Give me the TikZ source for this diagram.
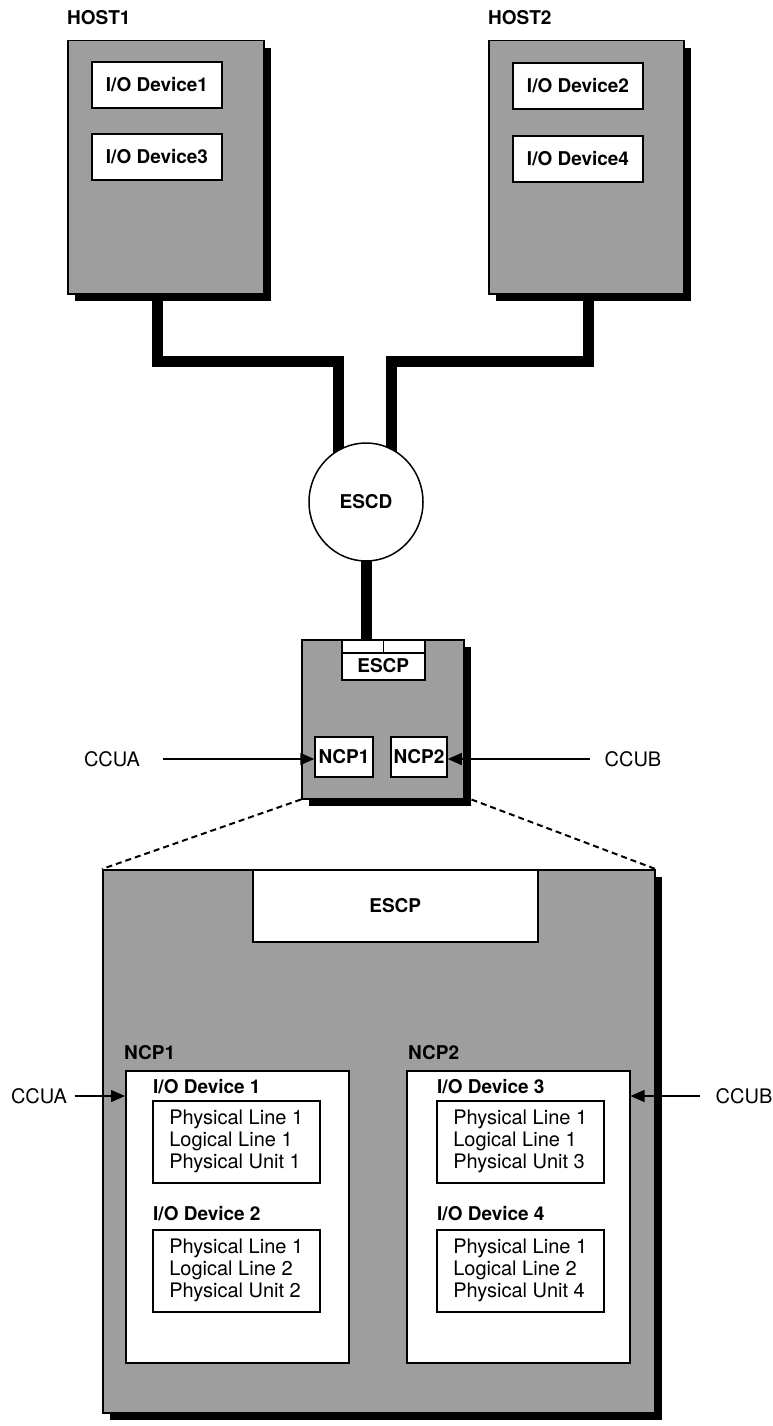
\documentclass[tikz,border=0pt]{standalone}
\usepackage{fontspec}
\setmainfont{TeX Gyre Heros}
\usetikzlibrary{arrows.meta,shadows,shapes.geometric}
\pgfdeclarelayer{bg}
\pgfsetlayers{bg,main}

\tikzset{
  box/.style={draw, line width=1.5pt, fill=black!38, inner sep=0pt,
    drop shadow={shadow xshift=7pt, shadow yshift=-7pt, fill=black, opacity=1}},
  wbox/.style={draw, line width=1.5pt, fill=white, inner sep=0pt},
  lbl/.style={font=\fontsize{19}{22}\selectfont\bfseries},
  txt/.style={font=\fontsize{20}{22}\selectfont},
  pipe/.style={line width=11pt, line join=miter},
  arr/.style={line width=1.5pt, -{Triangle[length=14pt,width=12pt]}},
  zoomline/.style={line width=2pt, dash pattern=on 6pt off 4pt},
}

\begin{document}
\begin{tikzpicture}[x=1pt, y=-1pt]
    \useasboundingbox (0,0) rectangle (773,1426);

    %host
    \node[box, anchor=north west, minimum width=196pt, minimum height=253pt] (host1) at (67,40) {};
    \node[lbl, anchor=base west, inner sep=0pt] (host1lbl) at (67,25) {HOST1};
    \node[wbox, lbl, minimum width=130pt, minimum height=46pt] (h1dev1) at (157,85) {I/O Device1};
    \node[wbox, lbl, minimum width=130pt, minimum height=46pt] (h1dev3) at (157,157) {I/O Device3};

    \node[box, anchor=north west, minimum width=195pt, minimum height=253pt] (host2) at (488,40) {};
    \node[lbl, anchor=base west, inner sep=0pt] (host2lbl) at (488,25) {HOST2};
    \node[wbox, lbl, minimum width=130pt, minimum height=46pt] (h2dev2) at (578,86) {I/O Device2};
    \node[wbox, lbl, minimum width=130pt, minimum height=46pt] (h2dev4) at (578,159) {I/O Device4};

    %escd
    \node[draw, ellipse, line width=1.5pt, fill=white, inner sep=0pt, lbl,
      minimum width=114pt, minimum height=118pt] (escd) at (366,502) {ESCD};

    %ncp
    \node[box, anchor=north west, minimum width=162pt, minimum height=159pt] (ncpbox) at (301,639) {};
    \node[wbox, anchor=north west, minimum width=83pt, minimum height=40pt] (escp1) at (341,639) {};
    \draw[line width=1.5pt] ([yshift=-14pt]escp1.north west) -- ([yshift=-14pt]escp1.north east);
    \draw[line width=1.5pt] (escp1.north) -- ([yshift=-14pt]escp1.north);
    \node[lbl] (escp1txt) at ([yshift=-27pt]escp1.north) {ESCP};
    \node[wbox, lbl, minimum width=58pt, minimum height=40pt] (ncp1) at (344,757) {NCP1};
    \node[wbox, lbl, minimum width=56pt, minimum height=40pt] (ncp2) at (419,757) {NCP2};

    \node[txt] (ccua1) at (112,759) {CCUA};
    \draw[arr] ([xshift=19pt]ccua1.east) -- (ccua1.east -| ncp1.west);
    \node[txt] (ccub1) at (633,759) {CCUB};
    \draw[arr] ([xshift=-11pt]ccub1.west) -- (ccub1.west -| ncp2.east);

    %collegamenti
    \begin{pgfonlayer}{bg}
        \draw[pipe] ([xshift=90pt]host1.south west) -- ++(0,67) -| ([xshift=-28pt]escd.center);
        \draw[pipe] ([xshift=100pt]host2.south west) -- ++(0,67) -| ([xshift=25pt]escd.center);
        \draw[pipe] (escd.center) -- (escd.center |- escp1.north);
    \end{pgfonlayer}

    %dettaglio
    \node[box, anchor=north west, minimum width=552pt, minimum height=543pt] (big) at (102,869) {};
    \draw[zoomline] (ncpbox.south west) -- (big.north west);
    \draw[zoomline] ([xshift=7pt]ncpbox.south east) -- (big.north east);
    \node[wbox, lbl, anchor=north west, minimum width=285pt, minimum height=72pt] (escp2) at (252,869) {ESCP};

    \node[lbl, anchor=west, inner sep=0pt] (ncp1lbl) at (124,1053) {NCP1};
    \node[wbox, anchor=north west, minimum width=223pt, minimum height=292pt] (ncp1w) at (125,1070) {};
    \node[lbl, anchor=west, inner sep=0pt] (ncp2lbl) at (408,1053) {NCP2};
    \node[wbox, anchor=north west, minimum width=223pt, minimum height=292pt] (ncp2w) at (406,1070) {};

    \node[lbl, anchor=west, inner sep=0pt] (dev1lbl) at (153,1087) {I/O Device 1};
    \node[wbox, txt, align=left, anchor=north west, minimum width=167pt, minimum height=82pt] (dev1) at (152,1100)
        {Physical Line 1\\Logical Line 1\\Physical Unit 1};
    \node[lbl, anchor=west, inner sep=0pt] (dev2lbl) at (153,1214) {I/O Device 2};
    \node[wbox, txt, align=left, anchor=north west, minimum width=167pt, minimum height=82pt] (dev2) at (152,1229)
        {Physical Line 1\\Logical Line 2\\Physical Unit 2};
    \node[lbl, anchor=west, inner sep=0pt] (dev3lbl) at (437,1087) {I/O Device 3};
    \node[wbox, txt, align=left, anchor=north west, minimum width=167pt, minimum height=82pt] (dev3) at (436,1100)
        {Physical Line 1\\Logical Line 1\\Physical Unit 3};
    \node[lbl, anchor=west, inner sep=0pt] (dev4lbl) at (437,1214) {I/O Device 4};
    \node[wbox, txt, align=left, anchor=north west, minimum width=167pt, minimum height=82pt] (dev4) at (436,1229)
        {Physical Line 1\\Logical Line 2\\Physical Unit 4};

    \node[txt] (ccua2) at (39,1096) {CCUA};
    \draw[arr] ([xshift=4pt]ccua2.east) -- (ccua2.east -| ncp1w.west);
    \node[txt] (ccub2) at (744,1096) {CCUB};
    \draw[arr] ([xshift=-12pt]ccub2.west) -- (ccub2.west -| ncp2w.east);
\end{tikzpicture}
\end{document}
